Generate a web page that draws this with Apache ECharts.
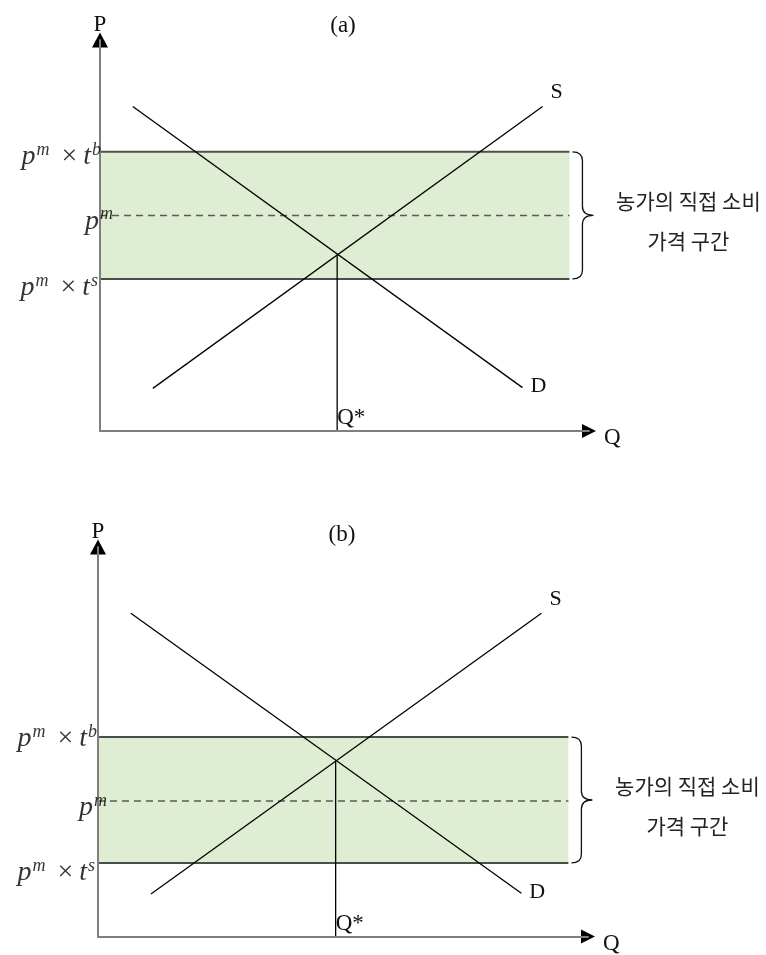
<!DOCTYPE html>
<html>
<head>
<meta charset="utf-8">
<script src="https://cdn.jsdelivr.net/npm/echarts@6/dist/echarts.min.js"></script>
<style>
  html, body { margin: 0; padding: 0; background: #fff; }
  #chart { width: 766px; height: 955px; }
</style>
</head>
<body>
<div id="chart"></div>
<script>
// Price–quantity diagram: market supply/demand with the farm household's
// own-consumption price band, shown for two positions of the band.
const panelTitles = ['(a)', '(b)'];
const axisMax = 100;                          // both axes run 0..100
const demandPoints = [[6.7, 83.0], [86.4, 11.1]];
const supplyPoints = [[10.8, 10.9], [90.5, 83.0]];
const equilibriumQ = 48.5;
const equilibriumP = 45.1;
const buyerBound  = [71.4, 51.2];             // p^m × t^b, per panel
const marketPrice = [55.1, 34.8];             // p^m, per panel
const sellerBound = [38.9, 18.9];             // p^m × t^s, per panel
const bandEndQ = 96;
const bandNote = ['농가의 직접 소비', '가격 구간'];

const SERIF = "'Liberation Serif', 'DejaVu Serif', serif";
const KR = "'Noto Sans CJK KR', 'Noto Sans', sans-serif";

const grids = [
  { left: 100, top: 40, width: 489, height: 391 },
  { left: 98, top: 547, width: 490, height: 391 }
];
// label nudges for the three price labels [dx, dy]
const priceLabelShift = [
  { buy: [1, 5], mid: [13, 6], sell: [-2, 9] },
  { buy: [-1, 2], mid: [9, 7], sell: [-3, 10] }
];

const mathRich = {
  v: { fontFamily: SERIF, fontStyle: 'italic', fontSize: 28, color: '#000', lineHeight: 32 },
  s: { fontFamily: SERIF, fontStyle: 'italic', fontSize: 18, color: '#000', lineHeight: 15, verticalAlign: 'top', padding: [0, 0, 0, 1] },
  x: { fontFamily: SERIF, fontSize: 28, color: '#000', lineHeight: 32, padding: [0, 6, 0, 12] }
};
const fmtBuy = '{v|p}{s|m}{x|×}{v|t}{s|b}';
const fmtMid = '{v|p}{s|m}';
const fmtSell = '{v|p}{s|m}{x|×}{v|t}{s|s}';

function plainLabel(text, extra) {
  return Object.assign({
    show: true, formatter: text, fontFamily: SERIF, fontSize: 22, color: '#111'
  }, extra);
}

function withEndLabel(points, text, dy) {
  return points.map((p, i) => i === points.length - 1
    ? { value: p, label: plainLabel(text, { position: 'right', distance: 8, offset: [0, dy] }) }
    : { value: p });
}

const series = [];
grids.forEach((g, i) => {
  const ax = { xAxisIndex: i, yAxisIndex: i };
  const sh = priceLabelShift[i];

  // shaded price band
  series.push(Object.assign({
    type: 'line', data: [], z: 1, silent: true,
    markArea: {
      silent: true,
      itemStyle: { color: '#dfedd3' },
      data: [[{ coord: [0, buyerBound[i]] }, { coord: [bandEndQ, sellerBound[i]] }]]
    }
  }, ax));

  // band edges and the market price
  [[buyerBound[i], 'solid'], [sellerBound[i], 'solid'], [marketPrice[i], 'dashed']].forEach(([p, kind]) => {
    series.push(Object.assign({
      type: 'line', z: 2, silent: true, symbol: 'none', clip: false,
      data: [[0, p], [bandEndQ, p]],
      lineStyle: kind === 'solid'
        ? { color: '#4d4d4d', width: 2 }
        : { color: '#5a5a5a', width: 1.5, type: [7, 5] }
    }, ax));
  });

  // price labels on the P axis
  series.push(Object.assign({
    type: 'scatter', symbolSize: 0, clip: false, silent: true, z: 6,
    data: [
      { value: [0, buyerBound[i]], label: { formatter: fmtBuy, offset: sh.buy } },
      { value: [0, marketPrice[i]], label: { formatter: fmtMid, offset: sh.mid } },
      { value: [0, sellerBound[i]], label: { formatter: fmtSell, offset: sh.sell } }
    ],
    label: { show: true, position: 'left', distance: 0, align: 'right', rich: mathRich }
  }, ax));

  // demand and supply
  series.push(Object.assign({
    name: 'D', type: 'line', z: 3, clip: false, showSymbol: true, symbolSize: 0,
    data: withEndLabel(demandPoints, 'D', -1),
    lineStyle: { color: '#000', width: 1.3 },
    markPoint: {
      silent: true,
      itemStyle: { color: '#000' },
      label: { show: false },
      data: [
        { coord: [0, axisMax], symbol: 'triangle', symbolSize: [16, 15] },
        { coord: [axisMax, 0], symbol: 'triangle', symbolSize: [14, 14], symbolRotate: -90 }
      ]
    }
  }, ax));
  series.push(Object.assign({
    name: 'S', type: 'line', z: 3, clip: false, showSymbol: true, symbolSize: 0,
    data: withEndLabel(supplyPoints, 'S', -14),
    lineStyle: { color: '#000', width: 1.3 }
  }, ax));

  // equilibrium quantity drop line
  series.push(Object.assign({
    type: 'line', z: 3, clip: false, showSymbol: true, symbolSize: 0,
    data: [
      { value: [equilibriumQ, 0], label: plainLabel('Q*', { position: 'right', distance: 0, offset: [0, -13], fontSize: 23 }) },
      { value: [equilibriumQ, equilibriumP] }
    ],
    lineStyle: { color: '#000', width: 1.3 }
  }, ax));

  // brace marking the band, with its note
  series.push(Object.assign({
    type: 'custom', z: 4, silent: true,
    data: [[bandEndQ, sellerBound[i], buyerBound[i]]],
    renderItem: function (params, api) {
      const top = api.coord([api.value(0), api.value(2)]);
      const bot = api.coord([api.value(0), api.value(1)]);
      const x0 = top[0] + 3, xm = x0 + 10, x1 = x0 + 21;
      const y0 = top[1], y1 = bot[1], ym = (y0 + y1) / 2, r = 9;
      const d = 'M' + x0 + ',' + y0 +
        ' Q' + xm + ',' + y0 + ' ' + xm + ',' + (y0 + r) +
        ' L' + xm + ',' + (ym - r) +
        ' Q' + xm + ',' + ym + ' ' + x1 + ',' + ym +
        ' Q' + xm + ',' + ym + ' ' + xm + ',' + (ym + r) +
        ' L' + xm + ',' + (y1 - r) +
        ' Q' + xm + ',' + y1 + ' ' + x0 + ',' + y1;
      return {
        type: 'group',
        children: [
          { type: 'path', shape: { pathData: d }, style: { fill: 'none', stroke: '#111', lineWidth: 1.3 } },
          {
            type: 'text',
            style: {
              text: bandNote.join('\n'), x: x1 + 95, y: ym + 6,
              align: 'center', verticalAlign: 'middle',
              fontFamily: KR, fontSize: 21, lineHeight: 40, fill: '#222'
            }
          }
        ]
      };
    }
  }, ax));
});

const option = {
  animation: false,
  backgroundColor: '#fff',
  title: panelTitles.map((t, i) => ({
    text: t,
    left: 338 - (i ? 1 : 0), top: i ? 518 : 9, textAlign: 'center',
    textStyle: { fontFamily: SERIF, fontSize: 23, fontWeight: 'normal', color: '#111' }
  })),
  grid: grids.map(g => Object.assign({ containLabel: false }, g)),
  xAxis: grids.map((g, i) => ({
    gridIndex: i, type: 'value', min: 0, max: axisMax, z: 5,
    axisLine: { show: true, onZero: false, lineStyle: { color: '#7f7f7f', width: 2 } },
    axisTick: { show: false }, axisLabel: { show: false }, splitLine: { show: false },
    name: '{q|Q}', nameLocation: 'end', nameGap: 15,
    nameTextStyle: {
      rich: { q: { fontFamily: SERIF, fontSize: 23, color: '#111', padding: [14, 0, 0, 0] } }
    }
  })),
  yAxis: grids.map((g, i) => ({
    gridIndex: i, type: 'value', min: 0, max: axisMax, z: 5,
    axisLine: { show: true, onZero: false, lineStyle: { color: '#7f7f7f', width: 2 } },
    axisTick: { show: false }, axisLabel: { show: false }, splitLine: { show: false },
    name: 'P', nameLocation: 'end', nameGap: 4,
    nameTextStyle: { fontFamily: SERIF, fontSize: 23, color: '#111' }
  })),
  series: series
};

const chart = echarts.init(document.getElementById('chart'), null, { renderer: 'canvas' });
chart.setOption(option);
</script>
</body>
</html>
